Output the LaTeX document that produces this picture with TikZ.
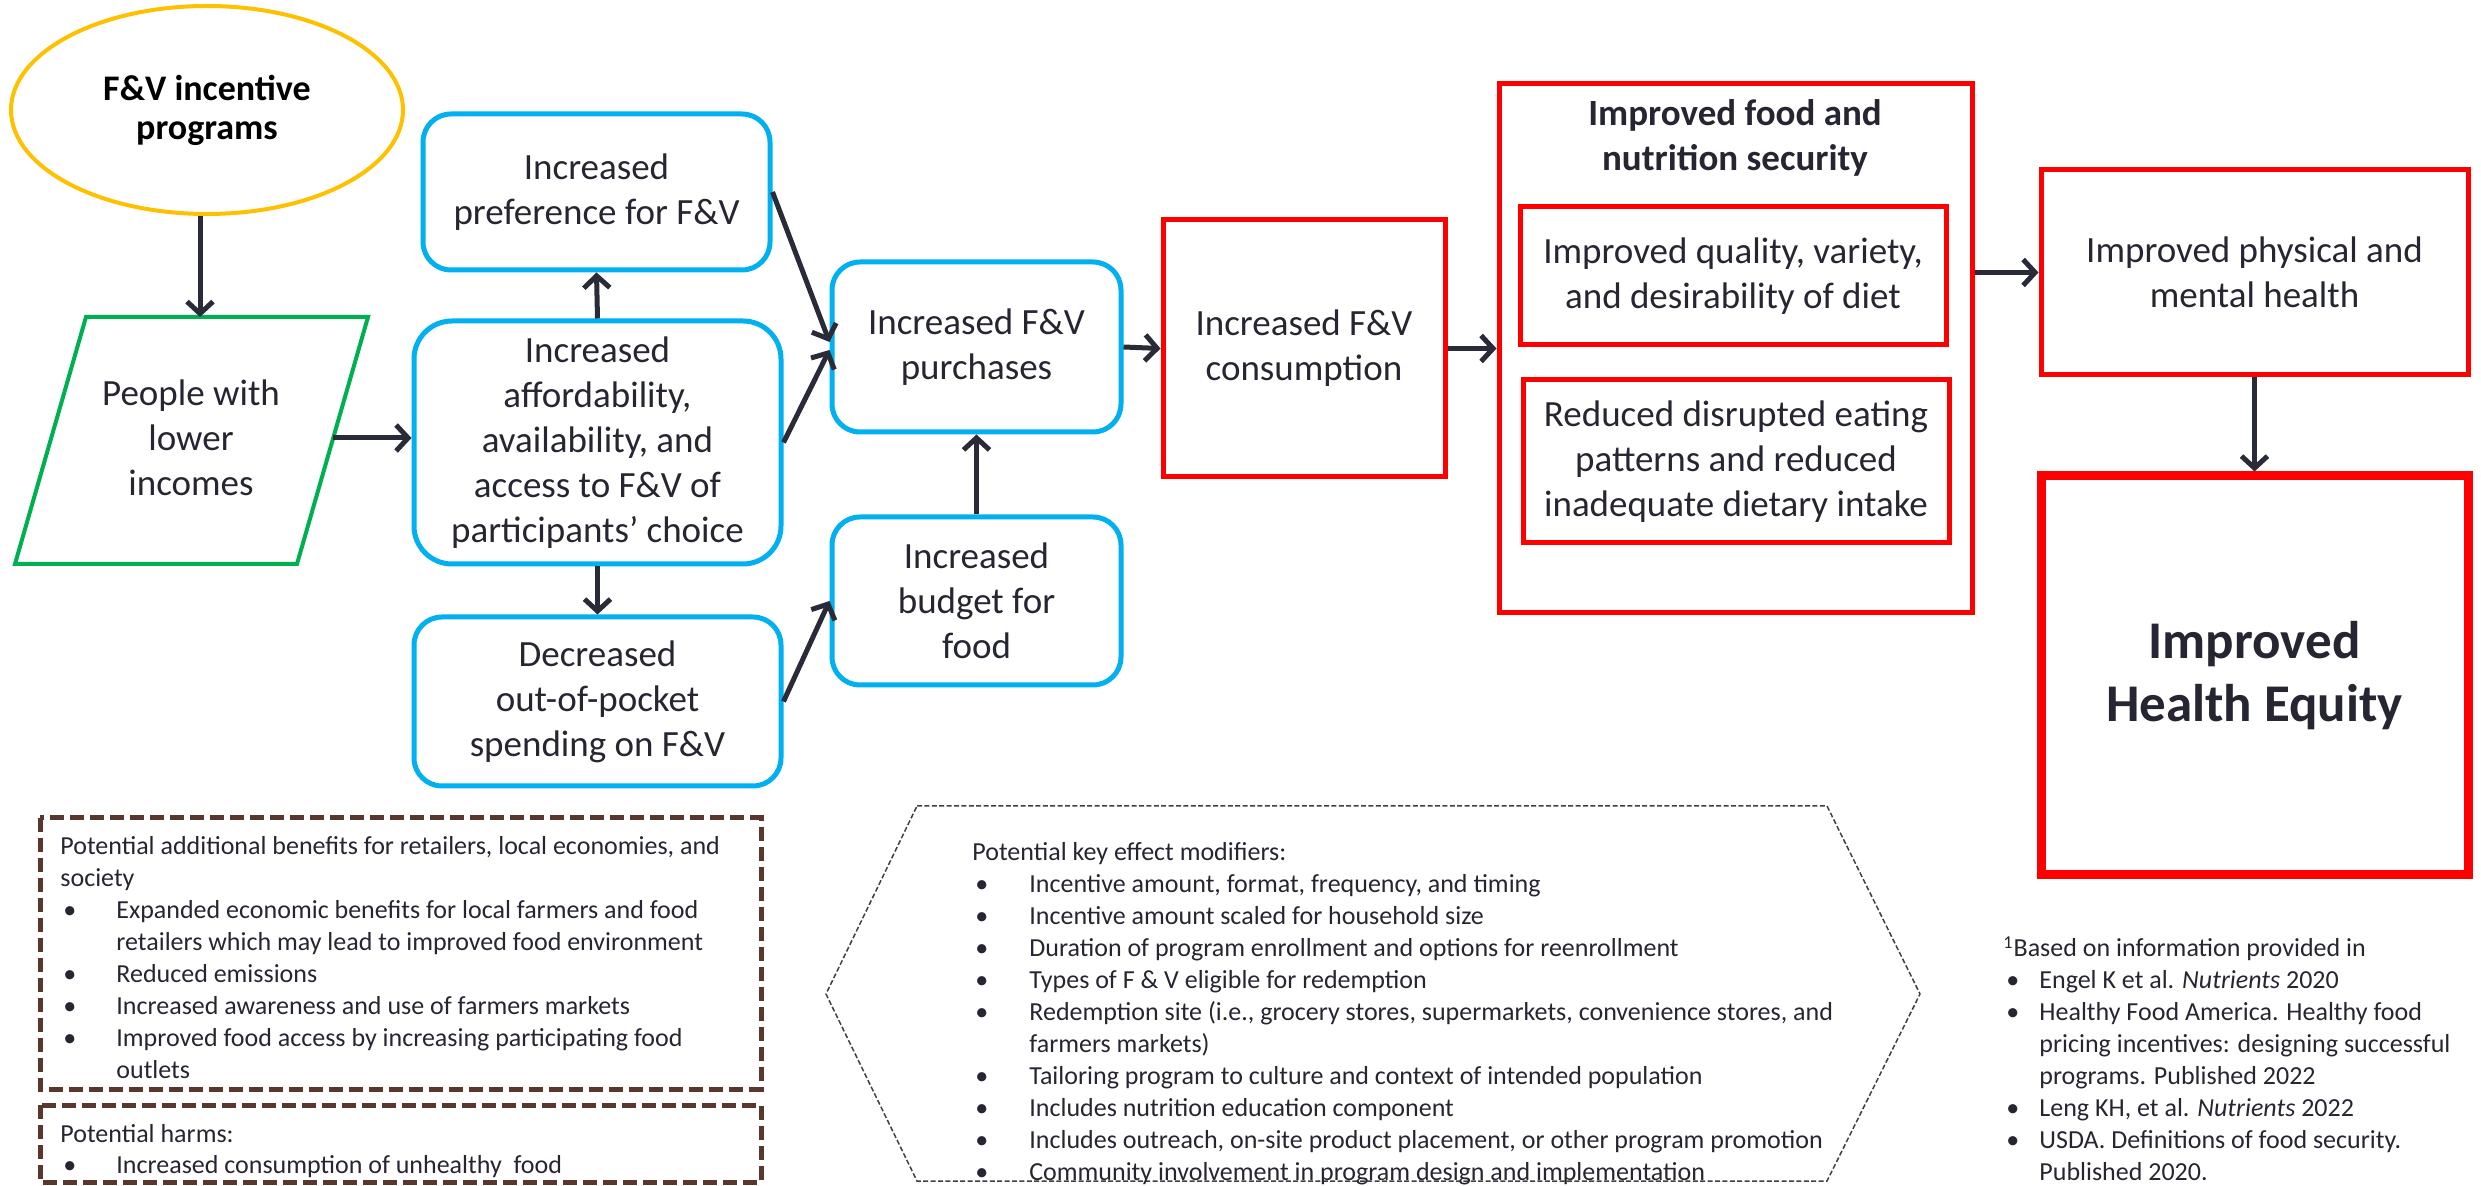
\documentclass[tikz,border=0pt]{standalone}
\usepackage{fontspec}
\setmainfont{Carlito}
\usetikzlibrary{shapes.geometric,arrows.meta,calc}
\definecolor{tx}{HTML}{262633}
\definecolor{arc}{HTML}{2A2B38}
\definecolor{gold}{HTML}{FFC000}
\definecolor{grn}{HTML}{00B050}
\definecolor{blu}{HTML}{00B0F0}
\definecolor{rd}{HTML}{FF0000}
\definecolor{brn}{HTML}{5A372D}
\definecolor{hexc}{HTML}{404040}
\newcommand\bl[1]{\makebox[#1][l]{\hspace{1.5pt}•}}
\begin{document}
\begin{tikzpicture}[x=0.5pt,y=-0.5pt,
  bigfont/.style={font=\fontsize{18.5}{22.5}\selectfont},
  smallfont/.style={font=\fontsize{13}{16}\selectfont},
  bluebox/.style={draw=blu, line width=2.5pt, rounded corners=14pt, align=center, text=tx, bigfont, inner sep=0pt},
  redbox/.style={draw=rd, line width=2.5pt, align=center, text=tx, bigfont, inner sep=0pt},
  arr/.style={draw=arc, line width=2.5pt, -{Straight Barb[length=6pt,width=13pt]}},
  brownbox/.style={draw=brn, line width=2.5pt, dash pattern=on 7pt off 3pt},
  textblock/.style={anchor=base west, inner sep=0pt, text=tx, smallfont}]
\useasboundingbox (0,0) rectangle (2481,1186);

% ellipse
\node[ellipse, draw=gold, line width=2pt, minimum width=196pt, minimum height=104pt, inner sep=0pt, align=center, font=\fontsize{18}{19.5}\selectfont\bfseries] (prog) at (207,110) {F\&V incentive\\programs};

% parallelogram
\draw[grn, line width=2pt] (86,317) -- (368,317) -- (297,564) -- (15,564) -- cycle;
\node[align=center, text=tx, bigfont, inner sep=0pt] (people) at (191,438) {People with\\lower\\incomes};
\coordinate (ptop) at (200,317);
\coordinate (pr) at (333,438);

% blue boxes
\node[bluebox, minimum width=173.5pt, minimum height=78pt] (pref) at (596.5,192) {Increased\\preference for F\&V};
\node[bluebox, rounded corners=19pt, minimum width=183.5pt, minimum height=121.5pt] (afford) at (597.5,442.5) {Increased\\affordability,\\availability, and\\access to F\&V of\\participants’ choice};
\node[bluebox, minimum width=183.5pt, minimum height=84.5pt] (dec) at (597.5,701.5) {Decreased\\out-of-pocket\\spending on F\&V};
\node[bluebox, minimum width=144.5pt, minimum height=85pt] (purch) at (976.5,347) {Increased F\&V\\purchases};
\node[bluebox, minimum width=144.5pt, minimum height=84pt] (budget) at (976.5,601) {Increased\\budget for\\food};

% red boxes
\node[redbox, minimum width=141pt, minimum height=128.5pt] (cons) at (1304,348.5) {Increased F\&V\\consumption};
\node[redbox, minimum width=236.5pt, minimum height=264.5pt] (big) at (1735.5,348.5) {};
\node[align=center, text=tx, font=\fontsize{18.5}{22.5}\selectfont\bfseries, inner sep=0pt] (bigtitle) at (1735,137.5) {Improved food and\\nutrition security};
\node[redbox, minimum width=213pt, minimum height=69pt] (inner1) at (1733,276) {Improved quality, variety,\\and desirability of diet};
\node[redbox, minimum width=213pt, minimum height=81.5pt] (inner2) at (1736,461.5) {Reduced disrupted eating\\patterns and reduced\\inadequate dietary intake};
\node[redbox, minimum width=213.5pt, minimum height=102.5pt] (health) at (2254.5,272.5) {Improved physical and\\mental health};
\node[redbox, line width=4.5pt, minimum width=213.5pt, minimum height=199.5pt, font=\fontsize{26.5}{31.5}\selectfont\bfseries] (equity) at (2254.5,675.5) {Improved\\Health Equity};

% arrows
\draw[arr] (ptop |- prog.south) -- (ptop);
\draw[arr] (pr) -- (pr -| afford.west);
\draw[arr] (afford.north) -- (pref.south);
\draw[arr] (afford.south) -- (dec.north);
\draw[arr] (pref.east) -- ($(purch.west)+(0,-5)$);
\draw[arr] (afford.east) -- ($(purch.west)+(0,3)$);
\draw[arr] (dec.east) -- (budget.west);
\draw[arr] (budget.north) -- (purch.south);
\draw[arr] (purch.east) -- (cons.west);
\draw[arr] (cons.east) -- (big.west);
\draw[arr] (big.east |- health.west) -- (health.west);
\draw[arr] (health.south) -- (equity.north);

% bottom left boxes
\draw[brownbox] (40,818) rectangle (761,1089);
\draw[brownbox] (40,1105) rectangle (761,1182);
\node[textblock] (benefits) at (60,855) {\parbox[t]{400pt}{Potential additional benefits for retailers, local economies, and\\
society\\
\bl{28pt}Expanded economic benefits for local farmers and food\\
\hspace*{28pt}retailers which may lead to improved food environment\\
\bl{28pt}Reduced emissions\\
\bl{28pt}Increased awareness and use of farmers markets\\
\bl{28pt}Improved food access by increasing participating food\\
\hspace*{28pt}outlets}};
\node[textblock] (harms) at (60,1142) {\parbox[t]{400pt}{Potential harms:\\
\bl{28pt}Increased consumption of unhealthy\ \ food}};

% hexagon
\draw[hexc, line width=0.75pt, dash pattern=on 2.5pt off 1.2pt] (917,806) -- (1827,806) -- (1920,994) -- (1827,1181) -- (917,1181) -- (826,994) -- cycle;
\node[textblock] (modifiers) at (972,861) {\parbox[t]{500pt}{Potential key effect modifiers:\\
\bl{28.5pt}Incentive amount, format, frequency, and timing\\
\bl{28.5pt}Incentive amount scaled for household size\\
\bl{28.5pt}Duration of program enrollment and options for reenrollment\\
\bl{28.5pt}Types of F \& V eligible for redemption\\
\bl{28.5pt}Redemption site (i.e., grocery stores, supermarkets, convenience stores, and\\
\hspace*{28.5pt}farmers markets)\\
\bl{28.5pt}Tailoring program to culture and context of intended population\\
\bl{28.5pt}Includes nutrition education component\\
\bl{28.5pt}Includes outreach, on-site product placement, or other program promotion\\
\bl{28.5pt}Community involvement in program design and implementation}};

% footnote
\node[textblock] (refs) at (2003,957) {\parbox[t]{300pt}{\textsuperscript{1}Based on information provided in\\
\bl{18pt}Engel K et al. \textit{Nutrients} 2020\\
\bl{18pt}Healthy Food America. Healthy food\\
\hspace*{18pt}pricing incentives: designing successful\\
\hspace*{18pt}programs. Published 2022\\
\bl{18pt}Leng KH, et al. \textit{Nutrients} 2022\\
\bl{18pt}USDA. Definitions of food security.\\
\hspace*{18pt}Published 2020.}};
\end{tikzpicture}
\end{document}
